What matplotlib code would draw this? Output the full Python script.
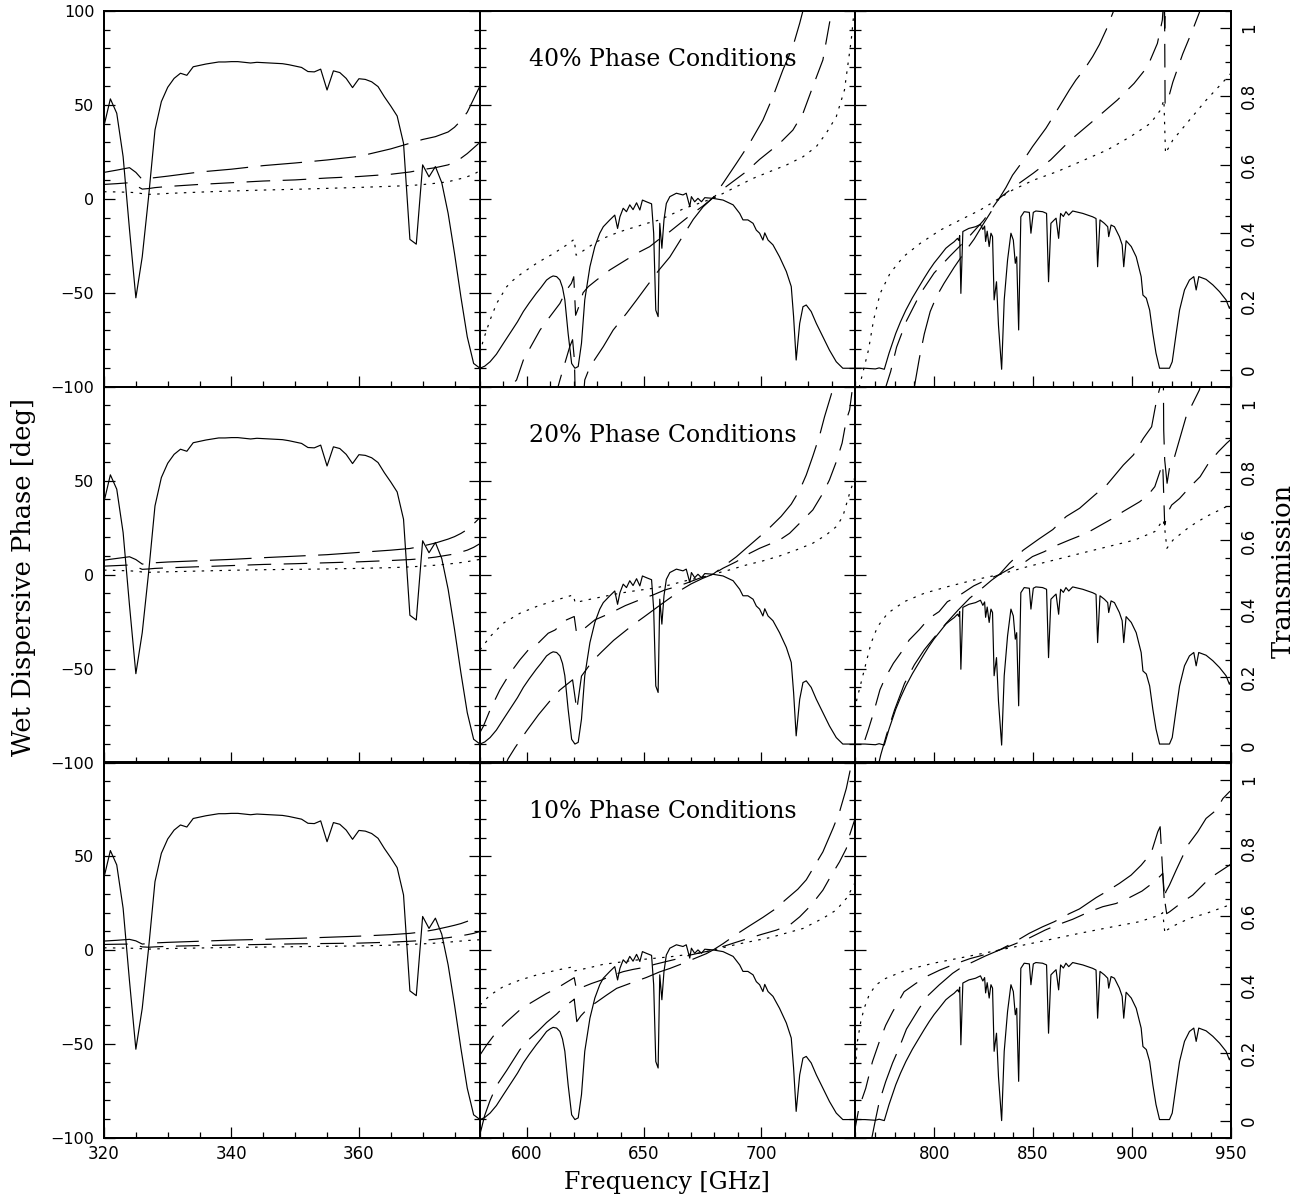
import matplotlib
matplotlib.use("Agg")
import matplotlib.pyplot as plt
from matplotlib.ticker import MultipleLocator, FixedLocator, FuncFormatter

plt.rcParams["lines.scale_dashes"] = False

# ---------------- transmission (same in every row) ----------------
LEFT_FREQ = list(range(320, 380))
LEFT_TRANS = [0.713, 0.792, 0.750, 0.623, 0.410, 0.210, 0.330, 0.506, 0.701, 0.784,
              0.826, 0.852, 0.867, 0.861, 0.886, 0.890, 0.894, 0.897, 0.900, 0.900,
              0.901, 0.901, 0.899, 0.897, 0.899, 0.898, 0.897, 0.896, 0.895, 0.892,
              0.888, 0.884, 0.872, 0.871, 0.879, 0.818, 0.874, 0.869, 0.852, 0.825,
              0.851, 0.849, 0.842, 0.828, 0.798, 0.771, 0.742, 0.662, 0.381, 0.367,
              0.599, 0.564, 0.594, 0.547, 0.457, 0.340, 0.213, 0.096, 0.018, 0.004]

MID_TRANS = [(580, 0.004), (582, 0.010), (584.3, 0.023), (587, 0.045), (590, 0.077),
             (592, 0.098), (594.2, 0.121), (596, 0.140), (598.5, 0.170), (601, 0.195),
             (604, 0.223), (606, 0.240), (608.4, 0.262), (610, 0.270), (611.2, 0.274),
             (612.7, 0.272), (614.1, 0.262), (615.2, 0.240), (616.2, 0.204), (617.6, 0.106),
             (619.1, 0.018), (620.5, 0.004), (621.9, 0.009), (623.3, 0.077), (624.7, 0.204),
             (626.9, 0.301), (629.0, 0.360), (631.1, 0.399), (632.6, 0.418), (635.4, 0.438),
             (637.5, 0.452), (638.7, 0.413), (639.7, 0.447), (641.1, 0.472), (642.5, 0.462),
             (643.9, 0.482), (645.3, 0.468), (646.8, 0.488), (648.2, 0.467), (649.3, 0.496),
             (651.0, 0.491), (653.2, 0.485), (654.1, 0.399), (655.0, 0.174), (656.0, 0.155),
             (656.7, 0.428), (657.6, 0.355), (658.5, 0.438), (659.5, 0.486), (661.0, 0.506),
             (663.8, 0.516), (666.6, 0.511), (668.0, 0.516), (669.5, 0.477), (670.2, 0.506),
             (671.6, 0.491), (673.0, 0.501), (674.5, 0.491), (675.9, 0.503), (679.4, 0.501),
             (683.7, 0.496), (688.0, 0.482), (690.8, 0.457), (692.2, 0.438), (694.3, 0.438),
             (696.5, 0.428), (697.9, 0.408), (699.3, 0.399), (700.7, 0.379), (701.5, 0.400),
             (702.9, 0.379), (705.0, 0.365), (707.8, 0.330), (710.7, 0.287), (712.8, 0.243),
             (713.8, 0.155), (714.9, 0.028), (716.4, 0.135), (717.8, 0.184), (719.2, 0.189),
             (721.3, 0.170), (723.5, 0.135), (726.3, 0.096), (729.1, 0.057), (732.0, 0.023),
             (734.8, 0.004), (740.0, 0.004)]

RIGHT_TRANS = [(760, 0.004), (765, 0.004), (770.3, 0.002), (772.2, 0.005), (774.8, 0.001),
               (777.2, 0.048), (780.6, 0.106), (783, 0.140), (785.7, 0.174), (789, 0.210),
               (792.4, 0.243), (795, 0.268), (797.5, 0.291), (800, 0.312), (802.5, 0.330),
               (805.9, 0.355), (808, 0.365), (810.1, 0.374), (811.8, 0.384), (812.4, 0.378),
               (812.9, 0.392), (813.5, 0.223), (814.5, 0.404), (817.5, 0.413), (820.9, 0.418),
               (823.4, 0.425), (824.6, 0.410), (825.5, 0.420), (826.0, 0.375), (826.8, 0.405),
               (827.8, 0.360), (828.7, 0.399), (829.5, 0.389), (830.3, 0.204), (831.5, 0.257),
               (832.5, 0.130), (834.1, 0.001), (835.4, 0.204), (837.1, 0.321), (838.8, 0.399),
               (840.0, 0.379), (841.0, 0.311), (841.7, 0.330), (842.7, 0.116), (843.8, 0.447),
               (845.5, 0.462), (848.1, 0.460), (848.9, 0.399), (850.1, 0.460), (851.4, 0.464),
               (854.8, 0.462), (856.8, 0.457), (857.8, 0.257), (859.0, 0.428), (860.7, 0.438),
               (861.6, 0.443), (862.9, 0.384), (863.9, 0.457), (865.3, 0.448), (866.6, 0.462),
               (868.0, 0.452), (870.0, 0.464), (875.1, 0.457), (880.1, 0.447), (881.8, 0.442),
               (882.6, 0.301), (883.8, 0.438), (886.0, 0.428), (887.7, 0.418), (888.2, 0.389),
               (889.4, 0.423), (891.1, 0.418), (893.6, 0.389), (895.0, 0.365), (895.8, 0.301),
               (897.0, 0.377), (899.6, 0.360), (902.1, 0.330), (904.6, 0.272), (905.5, 0.218),
               (907.2, 0.209), (908.9, 0.174), (910.5, 0.106), (912.1, 0.048), (913.9, 0.004),
               (918.9, 0.004), (920.3, 0.023), (922.3, 0.106), (924.0, 0.174), (926.5, 0.233),
               (929.0, 0.262), (931.2, 0.272), (932.4, 0.233), (933.7, 0.272), (937.4, 0.264),
               (940.8, 0.248), (944.2, 0.228), (947.5, 0.204), (949.2, 0.179), (950.0, 0.190)]

# ---------------- wet dispersive phase, left column ----------------
LEFT_PH_FREQ = [320, 322, 324, 325, 326, 327, 328, 330, 335, 340, 345, 350,
                355, 360, 365, 368, 370, 372, 374, 375, 376, 377, 378, 379]
LEFT_40_LONG = [14.0, 15.2, 16.5, 14.0, 10.2, 10.8, 11.2, 12.0, 14.2, 15.7, 17.6, 19.0,
                20.6, 22.5, 26.5, 29.5, 31.5, 33.0, 35.5, 38.0, 41.5, 46.0, 53.0, 60.0]
LEFT_40_SHORT = [7.6, 8.0, 8.5, 7.0, 5.1, 5.4, 5.9, 6.5, 7.6, 8.5, 9.4, 10.0,
                 11.0, 11.8, 13.0, 14.2, 15.5, 16.5, 18.0, 19.5, 21.5, 24.0, 27.0, 30.0]
LEFT_40_DOT = [3.7, 3.6, 3.4, 3.2, 2.7, 2.3, 2.4, 2.8, 3.5, 4.1, 4.6, 5.0,
               5.5, 6.0, 6.6, 7.0, 7.5, 8.2, 9.0, 9.9, 10.7, 11.7, 13.0, 14.9]
LEFT_20_LONG = [7.7, 8.6, 9.5, 8.0, 5.6, 5.8, 6.3, 6.7, 7.4, 8.1, 9.0, 9.8,
                10.6, 11.8, 13.0, 13.9, 15.2, 16.8, 18.9, 20.2, 21.9, 24.0, 27.0, 30.4]
LEFT_20_SHORT = [4.5, 4.8, 5.1, 4.2, 2.8, 3.0, 3.3, 3.6, 4.2, 4.8, 5.4, 5.8,
                 6.3, 6.8, 7.5, 8.0, 8.5, 9.3, 10.4, 11.0, 12.0, 13.0, 14.5, 16.5]
LEFT_20_DOT = [2.4, 2.2, 2.0, 1.8, 1.4, 1.2, 1.3, 1.5, 1.9, 2.3, 2.6, 2.8,
               3.0, 3.3, 3.7, 4.1, 4.5, 5.0, 5.6, 6.0, 6.4, 6.9, 7.5, 8.1]
LEFT_10_LONG = [4.9, 5.3, 5.8, 5.0, 3.3, 3.6, 3.9, 4.2, 4.8, 5.4, 5.8, 6.3,
                6.9, 7.5, 8.3, 9.0, 9.8, 11.0, 12.5, 13.3, 14.2, 15.4, 17.2, 19.6]
LEFT_10_SHORT = [3.1, 3.2, 3.3, 2.7, 1.8, 1.6, 1.8, 2.1, 2.5, 2.8, 3.1, 3.4,
                 3.6, 3.8, 4.3, 4.8, 5.2, 5.9, 6.7, 7.2, 7.7, 8.3, 9.0, 10.0]
LEFT_10_DOT = [1.3, 1.2, 1.1, 1.0, 0.8, 0.6, 0.7, 0.9, 1.2, 1.5, 1.7, 1.9,
               2.1, 2.3, 2.7, 3.1, 3.4, 3.8, 4.3, 4.6, 4.9, 5.2, 5.4, 5.6]

# ---------------- middle column (freq, phase) ----------------
MID_40_DOT = [(580, -82), (581.4, -75.2), (584.3, -64.5), (587.1, -55.7), (591.4, -46.8),
              (594, -43.5), (597, -40.5), (601, -37), (604, -34.5), (608, -31.5), (611, -29.5),
              (614, -27), (617, -24.6), (620.2, -21.6), (621, -30), (622, -29.5), (625.5, -26.4),
              (629, -23.5), (632.6, -21.1), (636, -19.3), (639.7, -17.6), (643, -16.2),
              (646.8, -14.9), (650, -13.5), (653.9, -12.2), (656, -11.5), (659.5, -9.6),
              (663, -7.6), (666.6, -5.5), (670, -3.9), (675, -1.8), (679.4, 0.2), (683.7, 2.8),
              (689.4, 6.4), (696.5, 10.8), (703.6, 14.4), (710.7, 17.9), (717.8, 22.3),
              (723.5, 27.7), (727.7, 34.8), (732, 43.6), (735.5, 57.8), (738.4, 84.4), (740, 105)]
MID_40_SHORT = [(590, -115), (593, -100), (595.6, -96.4), (598.5, -85.8), (605.6, -69.9),
                (609.8, -62.8), (614.1, -55.7), (616.9, -48.6), (619, -45), (620, -41.5),
                (620.8, -62), (622, -58), (624, -50), (626.2, -46.8), (629.7, -43.3),
                (635.4, -37.9), (641.1, -33.5), (646.8, -29.1), (652.4, -25.5), (657, -21),
                (661, -17.5), (666, -12.5), (670, -8.5), (675, -4), (679.4, 0.5), (685, 6.4),
                (693.6, 14.4), (699.3, 20.9), (707.8, 29.4), (713.5, 36.5), (717.8, 45.4),
                (722, 59.6), (726.3, 73.8), (729.1, 93.3), (731, 105)]
MID_40_LONG = [(610, -115), (614.1, -96.4), (618.3, -78.7), (619.5, -75), (620.3, -86),
               (620.8, -115), (623.5, -115), (624.7, -96.4), (626.9, -89.4), (632.6, -78.7),
               (636.8, -69.9), (642.5, -61), (646.8, -53.9), (651, -46.8), (656, -38.5),
               (661, -31), (666, -21), (671, -11), (675.2, -4.3), (679.4, 0.5), (683.7, 8.2),
               (689.4, 18.8), (695, 29.4), (700.7, 41.8), (705, 54.3), (709.2, 68.4),
               (713.5, 80.9), (716.4, 93.3), (717.8, 100), (719, 110)]

MID_20_DOT = [(580, -40.1), (584.3, -33), (589.9, -25.9), (597, -20.6), (604.1, -17.0),
              (612.7, -13.5), (619.8, -10.8), (620.6, -15), (622, -14.5), (625.5, -13.5),
              (632.6, -11.7), (639.7, -9.9), (646.8, -8.5), (653.9, -7.3), (661, -5.5),
              (668, -3.2), (675.2, -1.2), (679.4, 0.2), (686.5, 2.5), (693.6, 5.1),
              (700.7, 7.3), (707.8, 9.9), (714.9, 13.1), (722, 16.7), (727.7, 21.1),
              (732, 25.5), (734.8, 30.9), (737.7, 43.3), (740, 52)]
MID_20_SHORT = [(580, -84), (581.4, -80.8), (584.3, -72), (588.5, -61.3), (592.8, -52.5),
                (597, -45.4), (600.6, -40.1), (604.8, -36.5), (609.1, -31.2), (612, -29.5),
                (616.9, -24.1), (620.2, -22.3), (621.2, -31.2), (622.5, -30), (624.7, -28.5),
                (629, -24.1), (634, -21.4), (638.3, -18.8), (642, -16.5), (646, -14.5),
                (649.6, -12.7), (653.9, -10.8), (658.8, -8.2), (663.8, -6.4), (668, -4.6),
                (673.7, -1.9), (679.4, 0.2), (683.7, 3.4), (689.4, 6.9), (695, 11.3),
                (699.3, 14.0), (707.8, 18.4), (712.1, 22.0), (717.8, 29.1), (722, 34.4),
                (726.3, 43.3), (729.1, 50.4), (732, 60), (734.5, 70), (736.3, 82.3),
                (737.7, 87.6), (739, 100), (740, 105)]
MID_20_LONG = [(588, -110), (592, -98), (595, -92), (600, -83), (605, -74.5), (610, -67),
               (614, -61.5), (619.5, -56), (621.3, -72), (623.3, -54), (628, -46), (632, -41),
               (637, -35), (641, -31), (645, -27), (650, -22.5), (656, -17), (661, -12.5),
               (666, -8), (670, -5), (675, -2), (679.4, 0.2), (684, 4.5), (689.4, 9.5),
               (694, 14.5), (699.3, 20.2), (703.6, 25), (708.5, 31), (712.8, 37.5),
               (716.4, 45), (719.2, 53), (722, 63), (724.9, 74), (727, 84), (729.9, 96),
               (731, 102)]

MID_10_DOT = [(580, -29.2), (584.3, -23.9), (589.9, -19.4), (597, -15.9), (604.1, -13.2),
              (612.7, -10.6), (619.8, -8.8), (620.5, -11), (622, -10.5), (626, -9.5),
              (632.6, -7.5), (646.8, -5.2), (661, -3.5), (675.2, -1.2), (679.4, 0.1),
              (689.4, 3.1), (703.6, 6.7), (717.8, 11.6), (726.3, 17), (732, 21.4),
              (736.3, 27.6), (739.1, 33.8), (740, 36)]
MID_10_SHORT = [(580, -55.8), (582.8, -50.5), (587.1, -43.4), (591.4, -38.1), (597, -31.8),
                (601.3, -28.3), (608.4, -23), (612.7, -20.3), (617, -17), (620.2, -14.6),
                (621.2, -21.2), (623, -20), (627.6, -17.7), (631.8, -15.9), (636.8, -13.2),
                (641.1, -11.4), (645.3, -10.2), (650.3, -9.1), (654.6, -7.5), (659.5, -6.0),
                (663.8, -4.7), (669.5, -2.6), (679.4, 0.1), (683.7, 2.0), (689.4, 4.3),
                (695, 6.5), (700, 8.4), (706.4, 10.7), (712.1, 13.4), (716.4, 17.8),
                (721.3, 24), (726.3, 32), (729.1, 38.2), (733.4, 47.1), (736.3, 54.2),
                (737.7, 61.3), (739.1, 66.6), (740, 70)]
MID_10_LONG = [(580, -98), (582, -88), (584.3, -80), (587.1, -72), (591.4, -64), (597, -53),
               (601.3, -47), (604.8, -43), (608.4, -38.5), (612.7, -34), (615.5, -30.5),
               (619.8, -26.5), (620.2, -26), (621.3, -38), (623, -35), (626, -31),
               (629, -28.3), (634, -23.9), (638.3, -20.3), (643.9, -17.7), (651, -14.5),
               (656.7, -11.5), (661, -9.7), (666.6, -7), (672.3, -4), (676.6, -1.8),
               (679.4, 0.1), (683.7, 3.5), (689.4, 8.5), (695, 13), (700.7, 17.5), (706, 22),
               (710, 26.5), (715.6, 32.5), (719.2, 37.5), (724.2, 48), (726.3, 52.4),
               (730.6, 64.9), (733.4, 73.7), (736.3, 86.2), (738.4, 98.6), (739.5, 105)]

# ---------------- right column (freq, phase) ----------------
RIGHT_40_DOT = [(761, -105), (764.3, -91.1), (766.8, -80.5), (769.4, -64.5), (772.7, -50.4),
                (777.7, -39.7), (784.5, -30.8), (792.9, -23.8), (803.1, -16.7), (813.2, -11.3),
                (823.3, -6), (832.9, 0.2), (839.6, 4.6), (850.3, 9.9), (862.1, 14.4),
                (873.9, 19.7), (887.4, 25.9), (899.2, 33), (909.3, 40.1), (914.4, 47.2),
                (916.1, 52.5), (916.9, 24.1), (920.6, 31.2), (929, 41.8), (937.5, 52.5),
                (949.3, 65.8), (950, 67)]
RIGHT_40_SHORT = [(775, -102), (778, -92), (781, -79), (786, -65), (793, -50.5), (800, -39.5),
                  (808, -30.5), (816.5, -21.5), (825, -11.5), (832.9, 0.2), (840, 6),
                  (850, 13.5), (858.8, 20.6), (868.9, 31.2), (880.8, 41.8), (892.6, 52.5),
                  (901, 61.3), (907.8, 70.2), (912.8, 82.6), (915.3, 95), (916.0, 106),
                  (916.4, 106), (916.7, 50), (918, 52), (920.6, 62), (925.6, 77),
                  (930.7, 90), (934, 99), (935, 102)]
RIGHT_40_LONG = [(789, -105), (790, -100), (792.5, -85), (795, -72), (798, -60), (801.2, -52),
                 (805, -45), (810.1, -36.5), (815, -29), (820.2, -21.5), (824.5, -14),
                 (829, -6.5), (832.9, 0.2), (836.3, 6), (839.6, 12.5), (845.5, 21),
                 (849.7, 27.7), (856.5, 37.5), (861.5, 46), (868.3, 57.8), (871.6, 63.1),
                 (876, 69), (880.1, 75.6), (883.5, 82), (887, 90), (890.2, 98.6),
                 (891.5, 102), (915.8, 110), (916.5, 90.6), (917.2, 110)]

RIGHT_20_DOT = [(760, -72), (761, -66), (762, -62), (764.7, -50.7), (768.1, -36.5),
                (771.4, -27.7), (776.5, -20.6), (784.9, -14.4), (795.1, -9.9), (806.9, -6.4),
                (820.4, -2.8), (832.9, 0), (847.4, 4.3), (860.9, 7.8), (874.4, 11.4),
                (887.9, 14.9), (901.3, 18.4), (911.5, 22.9), (915.7, 29.1), (916.4, 25.5),
                (917.6, 14), (920.7, 18.4), (929.1, 25.5), (937.5, 30.9), (949.3, 37),
                (950, 37.5)]
RIGHT_20_SHORT = [(765, -88), (766.7, -82.6), (769.3, -73.8), (772.6, -61.3), (775.2, -55.1),
                  (779.4, -47.2), (783.6, -41), (787.4, -34.8), (792.4, -29.4), (797.5, -23.2),
                  (802.5, -19.7), (806.7, -14.4), (811.8, -11.7), (820, -6), (826, -3),
                  (832.9, 0), (840.2, 4.3), (846.1, 6.9), (849.7, 9.6), (855.6, 12.2),
                  (862.4, 15.8), (868.3, 18.4), (876.9, 22), (882.8, 25.5), (890.4, 30),
                  (895.4, 33.5), (903.9, 38.8), (908.1, 42.4), (911.5, 46.8), (914.9, 57.4),
                  (915.5, 59), (916.5, 26.4), (918, 33), (920, 37), (924, 40.5),
                  (929.4, 46.8), (934.4, 52.1), (938.6, 59.2), (943.6, 65.4), (947.8, 69.9),
                  (950, 72)]
RIGHT_20_LONG = [(771, -105), (773, -96), (776, -85), (780, -72), (785, -58), (790, -48),
                 (795, -40), (800, -33.5), (806, -26), (812, -19), (818, -12.5), (824.5, -7),
                 (829, -3), (832.9, 0), (838, 6), (845, 13), (853, 19), (860, 24),
                 (866.7, 30.9), (873.5, 35.3), (881.2, 42.4), (887.2, 47.7), (895.6, 58.3),
                 (900.7, 63.7), (905.7, 72.5), (909.9, 78.7), (912.4, 92.9), (914.2, 100),
                 (915, 108), (915.8, 108), (916, 76.9), (916.5, 61), (917.7, 48.6),
                 (919, 57.4), (921.5, 62.8), (927.3, 84), (934, 98.2), (935, 102)]

RIGHT_10_DOT = [(760.5, -58), (761.2, -48.7), (762.9, -38.1), (764.6, -31), (767.1, -23.9),
                (770.5, -18.5), (775.5, -15), (785.7, -10.6), (799.2, -7), (816, -3.5),
                (832.9, 0.1), (853.1, 4.5), (873.4, 9), (890.2, 12.5), (903.7, 15.2),
                (913.9, 18.7), (915.5, 20), (916.6, 9), (918, 11), (922, 13.5), (929, 17),
                (937.4, 19.6), (949.2, 24.1), (950, 24.5)]
RIGHT_10_SHORT = [(759.5, -98), (762, -84), (765.4, -73.6), (768.8, -59.4), (772.2, -49),
                  (775.5, -40), (778.9, -33), (784.8, -22.1), (790.7, -17.7), (797, -13.5),
                  (803, -10.5), (810, -7.5), (818, -4.5), (825, -2.5), (832.9, 0.1),
                  (840, 3), (848, 6.5), (856, 10.7), (862, 13.4), (870, 16.5), (878.4, 20.5),
                  (885.2, 23.2), (891.9, 24.9), (898.6, 28), (905, 31.5), (911.3, 36.5),
                  (914.7, 40), (915.5, 41), (916.6, 25.8), (917.5, 19.5), (919, 20.5),
                  (925.6, 25.8), (930.7, 29.4), (939.1, 38.3), (949.2, 45.3), (950, 46)]
RIGHT_10_LONG = [(767, -104), (768.5, -100), (770.2, -91), (772.2, -81), (775.5, -70),
                 (779, -60), (782.3, -52), (786, -42), (792.4, -31), (797, -24),
                 (802.5, -18.5), (809.3, -12.3), (814, -9), (820, -6), (826, -3),
                 (832.9, 0.1), (840, 4), (848, 9), (854.8, 12.5), (860.7, 15.2), (868.3, 19.5),
                 (873.4, 22), (881.8, 28), (886.8, 31.1), (893.6, 35.6), (899.5, 40),
                 (904.6, 45.3), (909.6, 51.6), (913, 63.1), (914.2, 65.8), (916.3, 25.8),
                 (917, 31), (918.9, 34.7), (922.3, 42.7), (928.2, 56), (933.2, 63.1),
                 (937.4, 70.2), (942.5, 74.6), (945.9, 80.8), (949.2, 84.4), (950, 85)]

ROW_TITLES = ["40% Phase Conditions", "20% Phase Conditions", "10% Phase Conditions"]
COL_XLIM = [(320, 379), (580, 740), (760, 950)]
COL_XMAJOR = [20, 50, 50]
COL_XMINOR = [5, 10, 10]

# pixel layout of the grid
W, H = 1316, 1203
COL_X = [104, 480, 855, 1231]
ROW_Y = [10.7, 386.7, 762.5, 1138]

LONG = (0, (30, 9))
SHORT = (0, (17, 9))
DOTTED = (0, (1.8, 4.6))
LW = 0.85
TICK_FONT = "DejaVu Sans"
LABEL_FONT = "DejaVu Serif"


def split(pairs):
    return [p[0] for p in pairs], [p[1] for p in pairs]


def phase_curves(row, col):
    if col == 0:
        sets = [(LEFT_40_DOT, LEFT_40_SHORT, LEFT_40_LONG),
                (LEFT_20_DOT, LEFT_20_SHORT, LEFT_20_LONG),
                (LEFT_10_DOT, LEFT_10_SHORT, LEFT_10_LONG)][row]
        return [(LEFT_PH_FREQ, s) for s in sets]
    if col == 1:
        sets = [(MID_40_DOT, MID_40_SHORT, MID_40_LONG),
                (MID_20_DOT, MID_20_SHORT, MID_20_LONG),
                (MID_10_DOT, MID_10_SHORT, MID_10_LONG)][row]
    else:
        sets = [(RIGHT_40_DOT, RIGHT_40_SHORT, RIGHT_40_LONG),
                (RIGHT_20_DOT, RIGHT_20_SHORT, RIGHT_20_LONG),
                (RIGHT_10_DOT, RIGHT_10_SHORT, RIGHT_10_LONG)][row]
    return [split(s) for s in sets]


def transmission(col):
    if col == 0:
        return LEFT_FREQ, LEFT_TRANS
    if col == 1:
        return split(MID_TRANS)
    return split(RIGHT_TRANS)


def phase_fmt(hide_top):
    def fmt(v, pos):
        if hide_top and v > 99:
            return ""
        return f"{v:.0f}".replace("-", "\u2212")
    return FuncFormatter(fmt)


def trans_fmt(v, pos):
    if abs(v) < 1e-9:
        return "0"
    if abs(v - 1) < 1e-9:
        return "1"
    return f"{v:.1f}"


def main() -> None:
    fig = plt.figure(figsize=(W / 100, H / 100), dpi=100)

    for r in range(3):
        for c in range(3):
            rect = [COL_X[c] / W, 1 - ROW_Y[r + 1] / H,
                    (COL_X[c + 1] - COL_X[c]) / W, (ROW_Y[r + 1] - ROW_Y[r]) / H]
            ax = fig.add_axes(rect)
            tw = ax.twinx()

            for (fx, ph), ls in zip(phase_curves(r, c), [DOTTED, SHORT, LONG]):
                ax.plot(fx, ph, color="black", lw=LW, linestyle=ls)
            tx, ty = transmission(c)
            tw.plot(tx, ty, color="black", lw=LW)

            ax.set_xlim(*COL_XLIM[c])
            ax.set_ylim(-100, 100)
            tw.set_ylim(-0.05, 1.05)

            ax.xaxis.set_major_locator(MultipleLocator(COL_XMAJOR[c]))
            ax.xaxis.set_minor_locator(MultipleLocator(COL_XMINOR[c]))
            ax.yaxis.set_major_locator(MultipleLocator(50))
            ax.yaxis.set_minor_locator(MultipleLocator(10))
            ax.yaxis.set_major_formatter(phase_fmt(r > 0))

            ax.tick_params(which="both", direction="in", top=False, bottom=True,
                           left=True, right=(c < 2), labelleft=(c == 0),
                           labelbottom=(r == 2), labelright=False, width=0.9)
            ax.tick_params(which="major", length=8)
            ax.tick_params(which="minor", length=4)
            ax.tick_params(axis="y", pad=7, labelsize=11.5)
            ax.tick_params(axis="x", pad=5, labelsize=12)
            for lab in ax.get_xticklabels() + ax.get_yticklabels():
                lab.set_family(TICK_FONT)

            if c == 2:
                tw.yaxis.set_major_locator(FixedLocator([0, 0.2, 0.4, 0.6, 0.8, 1.0]))
                tw.yaxis.set_minor_locator(MultipleLocator(0.05))
                tw.yaxis.set_major_formatter(FuncFormatter(trans_fmt))
                tw.tick_params(which="both", direction="in", right=True, labelright=True,
                               width=0.9, pad=6.5, labelsize=12)
                tw.tick_params(which="major", length=8)
                tw.tick_params(which="minor", length=4)
                for lab in tw.get_yticklabels():
                    lab.set_rotation(90)
                    lab.set_va("center")
                    lab.set_family(TICK_FONT)
            else:
                tw.set_yticks([])
                tw.tick_params(which="both", right=False, labelright=False)

            for a in (ax, tw):
                for sp in a.spines.values():
                    sp.set_linewidth(1.4)

            if c == 1:
                ax.text(0.488, 0.869, ROW_TITLES[r], transform=ax.transAxes,
                        ha="center", va="center", family=LABEL_FONT, fontsize=17)

    fig.text(24 / W, 1 - 577 / H, "Wet Dispersive Phase [deg]", rotation=90,
             ha="center", va="center", family=LABEL_FONT, fontsize=18.5)
    fig.text(667 / W, 1 - 1183 / H, "Frequency [GHz]",
             ha="center", va="center", family=LABEL_FONT, fontsize=17)
    fig.text(1283 / W, 1 - 571 / H, "Transmission", rotation=90,
             ha="center", va="center", family=LABEL_FONT, fontsize=18.5)

    fig.savefig("out.png", dpi=100)


if __name__ == "__main__":
    main()
